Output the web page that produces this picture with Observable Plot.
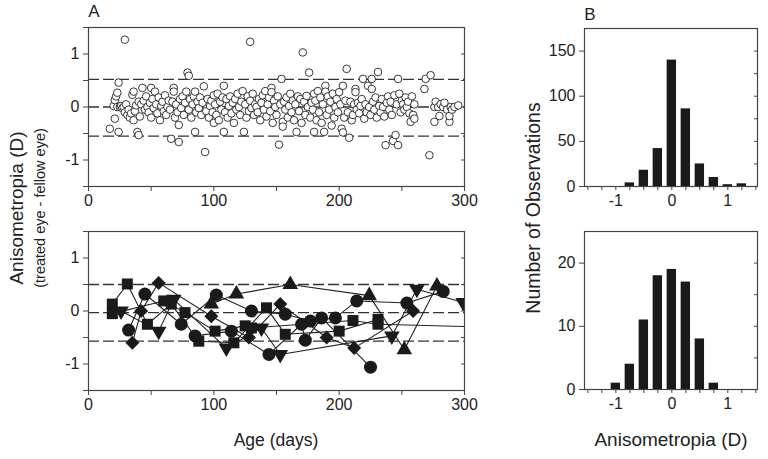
<!DOCTYPE html>
<html>
<head>
<meta charset="utf-8">
<script src="https://cdn.jsdelivr.net/npm/d3@7"></script>
<script src="https://cdn.jsdelivr.net/npm/@observablehq/plot@0.6"></script>
<style>
  html, body { margin: 0; padding: 0; background: #fff; }
  #root { position: relative; width: 768px; height: 459px; overflow: hidden; font-family: "Liberation Sans", Arial, sans-serif; color: #222; }
  .p { position: absolute; }
  .t { position: absolute; white-space: nowrap; transform: translate(-50%, -50%); }
  .rot { transform: translate(-50%, -50%) rotate(-90deg); }
</style>
</head>
<body>
<div id="root"></div>
<script>
// ---------------- DATA ----------------
const ageTicks = [0, 50, 100, 150, 200, 250, 300];
const anisoTicks = [-1.5, -1, -0.5, 0, 0.5, 1, 1.5];
const topRefs = [0.52, 0, -0.55];
const bottomRefs = [0.5, -0.03, -0.57];

// Panel A top: [age (days), anisometropia (D)]
const topPoints = [
 [17,-0.41],[20,0.02],[21,0.13],[21,-0.22],[22,0.2],[23,0.27],[23,0.0],[24,0.46],[24,-0.47],[25,0.0],[26,0.02],[27,-0.02],[28,0.0],[29,1.27],[29,-0.1],[30,0.05],
 [31,-0.15],[32,-0.05],[33,-0.2],[34,-0.12],[35,0.23],[36,0.29],[36,-0.25],[37,-0.08],[38,0.03],[39,-0.47],[40,-0.53],[40,0.1],
 [41,-0.18],[42,0.05],[43,0.36],[44,0.12],[45,-0.05],[46,0.2],[47,0.0],[48,-0.1],[49,0.08],[50,0.36],[50,-0.2],
 [51,0.15],[52,-0.02],[53,0.29],[54,0.05],[55,-0.12],[56,0.18],[57,-0.25],[58,0.02],[59,0.1],[60,-0.08],
 [61,0.22],[62,-0.15],[63,0.0],[64,0.12],[65,-0.05],[66,-0.6],[67,0.1],[68,0.36],[68,0.29],[69,-0.2],[70,0.05],
 [71,-0.1],[72,-0.34],[72,-0.66],[73,0.15],[74,-0.02],[75,0.2],[76,-0.15],[77,0.08],[78,0.29],[79,0.65],[80,0.59],[80,-0.05],
 [81,0.15],[82,-0.2],[83,0.05],[84,0.2],[85,0.29],[85,-0.47],[86,-0.1],[87,0.1],[88,-0.02],[89,0.18],[90,-0.15],
 [91,0.08],[92,0.39],[93,-0.85],[94,-0.08],[95,0.15],[96,-0.2],[97,0.02],[98,0.12],[99,-0.1],[100,0.22],[100,-0.3],
 [101,0.05],[102,-0.15],[103,0.25],[104,-0.25],[105,0.1],[106,-0.05],[107,0.18],[108,0.4],[108,-0.47],[109,-0.1],[110,0.15],
 [111,-0.2],[112,0.02],[113,0.2],[114,-0.12],[115,0.08],[116,-0.3],[117,0.15],[118,-0.05],[119,0.25],[120,0.0],
 [121,-0.15],[122,0.1],[123,0.3],[124,-0.47],[125,0.05],[126,-0.2],[127,0.2],[128,-0.08],[129,1.23],[129,0.12],[130,-0.02],
 [131,0.25],[132,-0.15],[133,0.05],[134,0.0],[135,-0.1],[136,0.15],[137,-0.25],[138,0.08],[139,0.22],[140,-0.05],
 [141,0.3],[142,-0.18],[143,0.05],[144,0.18],[145,-0.08],[146,0.36],[146,0.28],[147,-0.3],[148,0.12],[149,0.0],[150,-0.15],
 [151,0.2],[152,-0.71],[153,0.05],[154,0.53],[155,-0.28],[155,-0.37],[156,0.1],[157,-0.05],[158,0.18],[159,-0.2],[160,0.02],
 [161,0.25],[162,-0.1],[163,0.12],[164,-0.25],[165,0.05],[166,-0.47],[167,0.2],[168,-0.08],[169,0.15],[170,-0.3],
 [171,1.03],[172,0.1],[173,-0.15],[174,0.21],[175,0.0],[176,0.65],[177,-0.2],[178,0.08],[179,-0.05],[180,-0.47],[180,0.25],
 [181,0.12],[182,-0.25],[183,0.3],[184,-0.1],[185,0.18],[186,-0.3],[187,0.05],[188,-0.47],[189,0.4],[189,0.29],[190,-0.15],
 [191,0.2],[192,-0.05],[193,0.1],[194,-0.35],[195,0.25],[196,-0.2],[197,0.0],[198,0.15],[199,-0.1],[200,0.28],
 [201,0.05],[202,-0.41],[203,-0.48],[203,0.4],[204,-0.2],[205,0.12],[206,0.72],[207,-0.1],[208,-0.58],[209,0.1],[210,-0.25],
 [211,-0.15],[212,0.05],[213,0.34],[213,0.28],[214,-0.05],[215,0.08],[216,-0.12],[217,0.02],[218,0.15],[219,0.53],[220,-0.22],
 [221,0.05],[222,-0.1],[223,0.4],[224,0.0],[225,-0.15],[226,0.53],[226,0.34],[227,0.1],[228,-0.05],[229,0.18],[230,-0.2],
 [231,0.66],[232,0.02],[233,-0.1],[234,0.15],[235,0.0],[236,-0.18],[237,-0.72],[238,0.08],[239,0.2],[240,-0.05],
 [241,0.1],[242,-0.15],[243,-0.64],[244,0.22],[245,-0.53],[246,0.05],[247,0.53],[247,-0.72],[248,0.25],[249,-0.1],[250,0.12],
 [251,0.05],[252,-0.05],[253,0.18],[254,0.0],[255,0.1],[256,-0.12],[257,-0.28],[258,0.2],[259,-0.15],[260,-0.22],[260,0.05],
 [268,0.34],[269,0.53],[272,-0.91],[273,0.6],
 [276,0.0],[276,-0.28],[277,0.1],[279,0.0],[280,-0.17],[281,0.05],[283,0.0],[284,0.08],[286,-0.05],[288,-0.28],[288,-0.17],[289,0.0],[290,-0.05],[292,0.0],[295,0.03]
];

// Panel A bottom: individual infants (shape = infant)
const circleA = [[32,-0.36],[45,0.32],[74,-0.25],[102,0.3],[130,0.0],[157,-0.06],[177,-0.19],[197,-0.13],[214,0.19],[254,0.15],[283,0.37]];
const circleB = [[85,-0.47],[114,-0.38],[144,-0.82],[170,-0.25],[173,-0.55],[186,-0.13],[225,-1.06]];
const squareA = [[19,0.13],[31,0.51],[47,-0.25],[66,0.13],[88,-0.57],[116,-0.6],[142,0.06],[157,-0.44],[200,-0.38],[231,-0.16]];
const squareB = [[19,-0.05],[60,0.19],[77,-0.03],[101,-0.38],[125,-0.28],[130,-0.32],[211,-0.18],[231,-0.25],[310,-0.3]];
const diamondA = [[35,-0.6],[42,0.0],[56,0.53],[98,-0.1],[128,-0.5],[153,0.13],[190,-0.5],[212,-0.7],[259,0.0]];
const triUpA = [[98,0.13],[118,0.32],[161,0.5],[224,0.29],[252,-0.73],[278,0.47]];
const triDownA = [[26,0.0],[56,-0.38],[68,0.22],[110,-0.7],[138,-0.32],[153,-0.82],[242,-0.47],[262,0.41],[299,0.16]];

// Panel B histograms
const binCentersTop = [-0.75,-0.5,-0.25,0,0.25,0.5,0.75,1,1.25];
const countsTop = [4,18,42,140,86,25,10,2,3];
const binCentersBottom = [-1,-0.75,-0.5,-0.25,0,0.25,0.5,0.75];
const countsBottom = [1,4,11,18,19,17,8,1];
const histXTicks = [-1.5,-1.25,-1,-0.75,-0.5,-0.25,0,0.25,0.5,0.75,1,1.25,1.5];
const histTopYTicks = [0,25,50,75,100,125,150,175];
const histBotYTicks = [0,5,10,15,20,25];

// ---------------- DRAW ----------------
const root = document.getElementById("root");
const FONT = "Liberation Sans, Arial, sans-serif";
const INK = "#222";
const fmt = d => (Number.isInteger(d) ? String(d) : "");

const triangleDown = {
  draw(context, size) {
    const s3 = Math.sqrt(3);
    const y = Math.sqrt(size / (s3 * 3));
    context.moveTo(0, y * 2);
    context.lineTo(-s3 * y, -y);
    context.lineTo(s3 * y, -y);
    context.closePath();
  }
};

function place(el, left, top) {
  el.classList.add("p");
  el.style.left = left + "px";
  el.style.top = top + "px";
  root.appendChild(el);
}

const baseStyle = {fontFamily: FONT, fontSize: "16px", color: INK, background: "transparent", overflow: "visible"};

function leftPanel(extraMarks, refs, showLabels) {
  return Plot.plot({
    width: 420, height: 195,
    marginLeft: 30, marginRight: 14, marginTop: 10, marginBottom: 26,
    style: baseStyle,
    x: {domain: [0, 300]},
    y: {domain: [-1.5, 1.5]},
    marks: [
      Plot.ruleY(refs, {stroke: "#333", strokeWidth: 1.3, strokeDasharray: "11,4"}),
      ...extraMarks,
      Plot.frame({stroke: "#444", strokeWidth: 1.2}),
      Plot.axisX(ageTicks, {tickSize: 5, tickPadding: 3, stroke: "#444", tickFormat: d => (d % 100 === 0 ? String(d) : ""), label: null}),
      Plot.axisY(anisoTicks, {tickSize: 5, tickPadding: 4, stroke: "#444", tickFormat: fmt, label: null}),
      Plot.axisY(anisoTicks, {anchor: "right", tickSize: 4, dx: -4, stroke: "#444", tickFormat: () => "", label: null})
    ]
  });
}

// Top-left scatter
const tl = leftPanel([
  Plot.dot(topPoints, {x: d => d[0], y: d => d[1], r: 3.8, stroke: "#222", strokeWidth: 0.9, fill: "white"})
], topRefs);
place(tl, 58, 17);

// Bottom-left individual series
const series = [
  {data: circleA, symbol: "circle", r: 6.5},
  {data: circleB, symbol: "circle", r: 6.5},
  {data: squareA, symbol: "square", r: 6.2},
  {data: squareB, symbol: "square", r: 6.2},
  {data: diamondA, symbol: "diamond2", r: 6.3},
  {data: triUpA, symbol: "triangle", r: 5.8},
  {data: triDownA, symbol: triangleDown, r: 5.8}
];
const bottomMarks = [];
for (const s of series) {
  bottomMarks.push(Plot.line(s.data, {x: d => d[0], y: d => d[1], stroke: "#222", strokeWidth: 1.1, clip: true}));
}
for (const s of series) {
  bottomMarks.push(Plot.dot(s.data, {x: d => d[0], y: d => d[1], symbol: s.symbol, r: s.r, fill: "#1a1a1a", stroke: "none", clip: true}));
}
const bl = leftPanel(bottomMarks, bottomRefs);
place(bl, 58, 221);

// Histograms
function histPanel(centers, counts, yMax, yTicks, yLabelTicks) {
  const rows = centers.map((c, i) => ({c, n: counts[i]}));
  return Plot.plot({
    width: 224, height: 195,
    marginLeft: 40, marginRight: 11, marginTop: 10, marginBottom: 27,
    style: baseStyle,
    x: {domain: [-1.56, 1.53]},
    y: {domain: [0, yMax]},
    marks: [
      Plot.rectY(rows, {x1: d => d.c - 0.125, x2: d => d.c + 0.125, y: "n", insetLeft: 2.3, insetRight: 2.3, fill: "#1a1a1a"}),
      Plot.frame({stroke: "#444", strokeWidth: 1.2}),
      Plot.axisX(histXTicks, {tickSize: 4, tickPadding: 4, stroke: "#444", tickFormat: fmt, label: null}),
      Plot.axisY(yLabelTicks, {tickSize: 5, tickPadding: 4, stroke: "#444", tickFormat: d => String(d), label: null}),
      Plot.axisY(yTicks, {anchor: "right", tickSize: 4, dx: -4, stroke: "#444", tickFormat: () => "", label: null})
    ]
  });
}
place(histPanel(binCentersTop, countsTop, 175, histTopYTicks, [0, 50, 100, 150]), 544, 18);
place(histPanel(binCentersBottom, countsBottom, 25, histBotYTicks, [0, 10, 20]), 544, 221);

// Texts
function text(str, x, y, size, rot) {
  const d = document.createElement("div");
  d.className = "t" + (rot ? " rot" : "");
  d.textContent = str;
  d.style.left = x + "px";
  d.style.top = y + "px";
  d.style.fontSize = size + "px";
  root.appendChild(d);
}
text("A", 94, 12, 17);
text("B", 590, 15, 17);
text("Anisometropia (D)", 17, 208, 19, true);
text("(treated eye - fellow eye)", 40, 208, 14.5, true);
text("Number of Observations", 533, 208, 19.5, true);
text("Age (days)", 276, 440, 17.5);
text("Anisometropia (D)", 671, 440, 19);
</script>
</body>
</html>
